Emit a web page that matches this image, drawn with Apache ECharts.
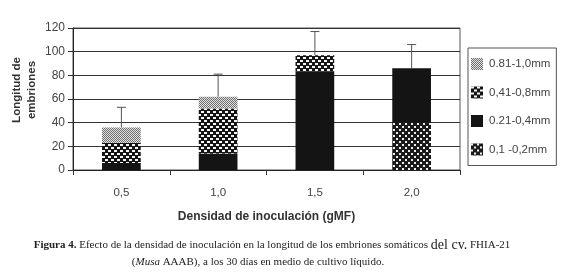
<!DOCTYPE html>
<html><head><meta charset="utf-8">
<script src="https://cdn.jsdelivr.net/npm/echarts@6/dist/echarts.min.js"></script>
<style>html,body{margin:0;padding:0;background:#fff}#c{width:578px;height:276px}</style>
</head><body><div id="c"></div>
<script>
var categories = ['0,5', '1,0', '1,5', '2,0'];
var seriesNames = ['0,1 -0,2mm', '0.21-0,4mm', '0,41-0,8mm', '0.81-1,0mm'];
var s01_02 = [0, 0, 0, 40];
var s021_04 = [6, 14, 83, 46];
var s041_08 = [17, 38, 14, 0];
var s081_10 = [13, 10, 0, 0];
var errTop = [53, 81, 117, 106];
var yTicks = [0, 20, 40, 60, 80, 100, 120];

function pat(size, bg, fg, cells) {
  var c = document.createElement('canvas');
  c.width = size; c.height = size;
  var g = c.getContext('2d');
  g.fillStyle = bg; g.fillRect(0, 0, size, size);
  g.fillStyle = fg;
  cells.forEach(function (p) { g.fillRect(p[0], p[1], p[2], p[3]); });
  return { image: c, repeat: 'repeat' };
}
var pLight = pat(4, '#e2e2e2', '#6e6e6e', [[0,0,1,1],[1,1,1,1],[2,0,1,1],[3,1,1,1],[0,2,1,1],[1,3,1,1],[2,2,1,1],[3,3,1,1]]);
var pDots = pat(6, '#141414', '#f4f4f4', [[0,0,3,2],[3,3,3,2]]);
var pCross = pat(6, '#1a1a1a', '#eeeeee', [[0,0,2,2],[3,3,2,2]]);
var solid = '#141414';

var stackData = [s01_02, s021_04, s041_08, s081_10];
var colors = [pCross, solid, pDots, pLight];
var totals = categories.map(function (_, i) {
  return stackData.reduce(function (a, s) { return a + s[i]; }, 0);
});

var series = stackData.map(function (d, k) {
  return {
    name: seriesNames[k], type: 'bar', stack: 'all', data: d,
    barWidth: '40%', itemStyle: { color: colors[k] }, silent: true
  };
});
series.push({
  type: 'custom', silent: true, z: 1,
  data: categories.map(function (_, i) { return [i, totals[i], errTop[i]]; }),
  renderItem: function (params, api) {
    var p0 = api.coord([api.value(0), api.value(1)]);
    var p1 = api.coord([api.value(0), api.value(2)]);
    var st = { stroke: '#555', lineWidth: 1 };
    return { type: 'group', children: [
      { type: 'line', shape: { x1: p0[0], y1: p0[1], x2: p1[0], y2: p1[1] }, style: st },
      { type: 'line', shape: { x1: p1[0] - 4.5, y1: p1[1], x2: p1[0] + 4.5, y2: p1[1] }, style: st }
    ]};
  }
});

var chart = echarts.init(document.getElementById('c'), null, { renderer: 'canvas' });
chart.setOption({
  animation: false,
  backgroundColor: '#fff',
  grid: { left: 73, right: 118, top: 28, bottom: 106, show: true, borderColor: '#555', borderWidth: 1 },
  legend: {
    orient: 'vertical', left: 468, top: 48, width: 91, height: 116,
    data: seriesNames.slice().reverse(), icon: 'rect',
    borderColor: '#555', borderWidth: 1, padding: [10, 6, 10, 3],
    itemWidth: 12, itemHeight: 12, itemGap: 16.5, selectedMode: false,
    textStyle: { fontFamily: 'Liberation Sans, Arial', fontSize: 11.5, color: '#444', padding: [0, 0, 0, 1] }
  },
  xAxis: {
    type: 'category', data: categories,
    axisLine: { lineStyle: { color: '#222', width: 1 } },
    axisTick: { show: true, length: 5, lineStyle: { color: '#333' } },
    axisLabel: { fontFamily: 'Liberation Sans, Arial', fontSize: 11.5, color: '#444', margin: 17 },
    name: 'Densidad de inoculación (gMF)', nameLocation: 'middle', nameGap: 41,
    nameTextStyle: { fontFamily: 'Liberation Sans, Arial', fontSize: 12, fontWeight: 'bold', color: '#333' }
  },
  yAxis: {
    type: 'value', min: yTicks[0], max: yTicks[yTicks.length - 1], interval: 20,
    axisLine: { show: true, lineStyle: { color: '#222' } },
    axisTick: { show: true, length: 5, lineStyle: { color: '#333' } },
    axisLabel: { fontFamily: 'Liberation Sans, Arial', fontSize: 12, color: '#444', margin: 8 },
    splitLine: { lineStyle: { color: '#333', width: 1.2 } }
  },
  graphic: [
    { type: 'text', x: 24, y: 90, rotation: Math.PI / 2,
      style: { text: 'Longitud de\nembriones', fontFamily: 'Liberation Sans, Arial', fontSize: 11.5, fontWeight: 'bold', fill: '#333', align: 'center', verticalAlign: 'middle', lineHeight: 15 } },
    { type: 'text', x: 272, y: 245,
      style: { text: '{b|Figura 4.}{n| Efecto de la densidad de inoculación en la longitud de los embriones somáticos }{l|del cv.}{n| FHIA-21}',
        align: 'center', verticalAlign: 'middle', fill: '#222',
        rich: {
          b: { fontFamily: 'Liberation Serif', fontSize: 11, fontWeight: 'bold', fill: '#222' },
          n: { fontFamily: 'Liberation Serif', fontSize: 11, fill: '#222' },
          l: { fontFamily: 'Liberation Serif', fontSize: 14, fill: '#222' }
        } } },
    { type: 'text', x: 258, y: 262,
      style: { text: '{n|(}{i|Musa}{n| AAAB), a los 30 días en medio de cultivo líquido.}',
        align: 'center', verticalAlign: 'middle',
        rich: {
          n: { fontFamily: 'Liberation Serif', fontSize: 11, fill: '#222' },
          i: { fontFamily: 'Liberation Serif', fontSize: 11, fontStyle: 'italic', fill: '#222' }
        } } }
  ],
  series: series
});
</script></body></html>
